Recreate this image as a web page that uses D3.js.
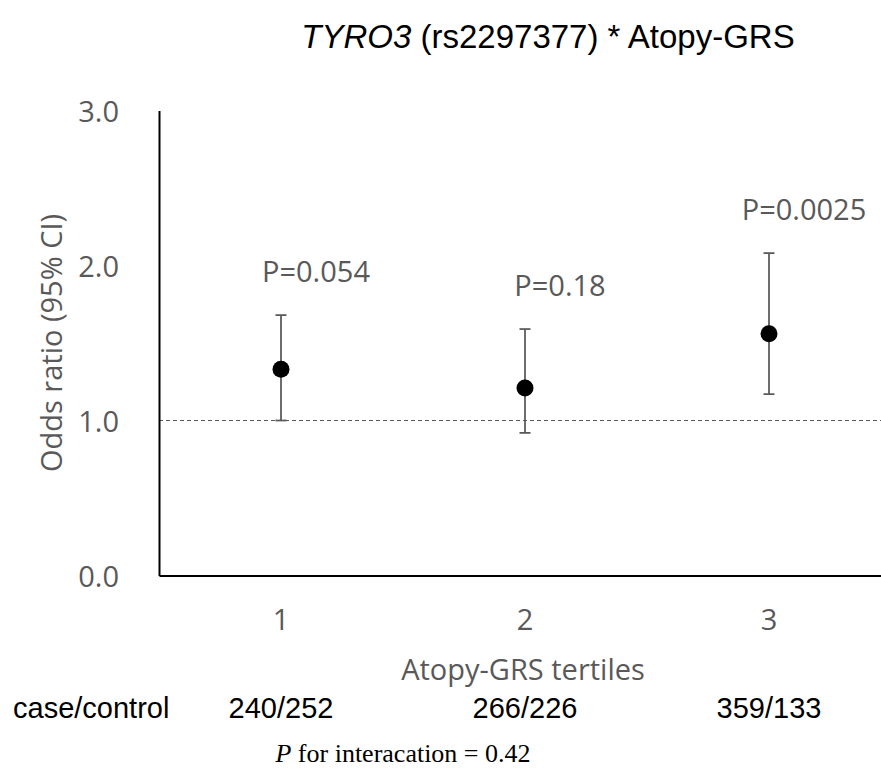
<!DOCTYPE html>
<html>
<head>
<meta charset="utf-8">
<script src="https://cdn.jsdelivr.net/npm/d3@7"></script>
<style>
  body { margin: 0; background: #fff; }
</style>
</head>
<body>
<div class="chart"></div>
<script>
var tertiles = ["1", "2", "3"];
var oddsRatio = [1.33, 1.21, 1.56];
var ciLower = [1.00, 0.92, 1.17];
var ciUpper = [1.68, 1.59, 2.08];
var pLabels = ["P=0.054", "P=0.18", "P=0.0025"];
var caseControl = ["240/252", "266/226", "359/133"];
var yTicks = [0, 1, 2, 3];

var svg_width = 881;
var svg_height = 783;
var svg = d3.select(".chart").append("svg").attr("width", svg_width).attr("height", svg_height);

var grey = "#595959";
var sans = "'Open Sans', sans-serif";

var x = d3.scaleBand().domain(tertiles).range([159, 891]);
var y = d3.scaleLinear().domain([0, 3]).range([575.5, 110.5]);

var data = tertiles.map(function(t, i) {
  return { t: t, or: oddsRatio[i], lo: ciLower[i], hi: ciUpper[i], p: pLabels[i], n: caseControl[i] };
});

// title
var title = svg.append("text")
    .attr("x", 548).attr("y", 48)
    .attr("text-anchor", "middle")
    .style("font", "33px 'Liberation Sans', Arial, sans-serif")
    .style("fill", "#000");
title.append("tspan").style("font-style", "italic").text("TYRO3");
title.append("tspan").text(" (rs2297377) * Atopy-GRS");

// reference line at OR = 1
svg.append("line")
    .attr("x1", x.range()[0]).attr("x2", svg_width)
    .attr("y1", y(1)).attr("y2", y(1))
    .style("stroke", grey).style("stroke-width", 1)
    .style("stroke-dasharray", "4,3");

var yAxis = svg.append("g")
    .attr("transform", "translate(" + x.range()[0] + ",0)")
    .call(d3.axisLeft(y).tickValues(yTicks).tickFormat(d3.format(".1f")).tickSize(0).tickPadding(40));
yAxis.select(".domain").style("stroke", "#000").style("stroke-width", 2);
yAxis.selectAll("text").attr("dy", "0.38em").style("font-family", sans).style("font-size", "29px").style("fill", grey);

var xAxis = svg.append("g")
    .attr("transform", "translate(0," + y(0) + ")")
    .call(d3.axisBottom(x).tickSize(0).tickSizeOuter(0).tickPadding(34));
xAxis.select(".domain").style("stroke", "#000").style("stroke-width", 2);
xAxis.selectAll("text").style("font-family", sans).style("font-size", "29px").style("fill", grey);

svg.append("text")
    .attr("x", 523).attr("y", 680)
    .attr("text-anchor", "middle")
    .style("font-family", sans).style("font-size", "29px").style("fill", grey)
    .text("Atopy-GRS tertiles");

svg.append("text")
    .attr("transform", "translate(52," + y(1.5) + ") rotate(-90)")
    .attr("dy", "0.35em")
    .attr("text-anchor", "middle")
    .style("font-family", sans).style("font-size", "29px").style("fill", grey)
    .text("Odds ratio (95% CI)");

var cx = function(d) { return x(d.t) + x.bandwidth() / 2; };

var g = svg.selectAll(".est")
    .data(data)
    .enter().append("g")
      .attr("class", "est");

g.append("line")
    .attr("x1", cx).attr("x2", cx)
    .attr("y1", function(d) { return y(d.lo); })
    .attr("y2", function(d) { return y(d.hi); })
    .style("stroke", grey).style("stroke-width", 1.75);

g.selectAll(".cap")
    .data(function(d) { return [d.lo, d.hi].map(function(v) { return { c: cx(d), v: v }; }); })
    .enter().append("line")
      .attr("class", "cap")
      .attr("x1", function(d) { return d.c - 5.5; })
      .attr("x2", function(d) { return d.c + 5.5; })
      .attr("y1", function(d) { return y(d.v); })
      .attr("y2", function(d) { return y(d.v); })
      .style("stroke", grey).style("stroke-width", 1.75);

g.append("circle")
    .attr("cx", cx)
    .attr("cy", function(d) { return y(d.or); })
    .attr("r", 8.5)
    .style("fill", "#000");

g.append("text")
    .attr("x", function(d) { return cx(d) + 35; })
    .attr("y", function(d) { return y(d.hi) - 33; })
    .attr("text-anchor", "middle")
    .style("font-family", sans).style("font-size", "29px").style("fill", grey)
    .text(function(d) { return d.p; });

// case/control row
svg.append("text")
    .attr("x", 13).attr("y", 718)
    .style("font", "29px 'Liberation Sans', Arial, sans-serif")
    .text("case/control");

g.append("text")
    .attr("x", cx)
    .attr("y", 718)
    .attr("text-anchor", "middle")
    .style("font", "29px 'Liberation Sans', Arial, sans-serif")
    .text(function(d) { return d.n; });

var foot = svg.append("text")
    .attr("x", 403).attr("y", 762)
    .attr("text-anchor", "middle")
    .style("font", "26px 'Liberation Serif', 'Times New Roman', serif");
foot.append("tspan").style("font-style", "italic").text("P");
foot.append("tspan").text(" for interacation = 0.42");
</script>
</body>
</html>
